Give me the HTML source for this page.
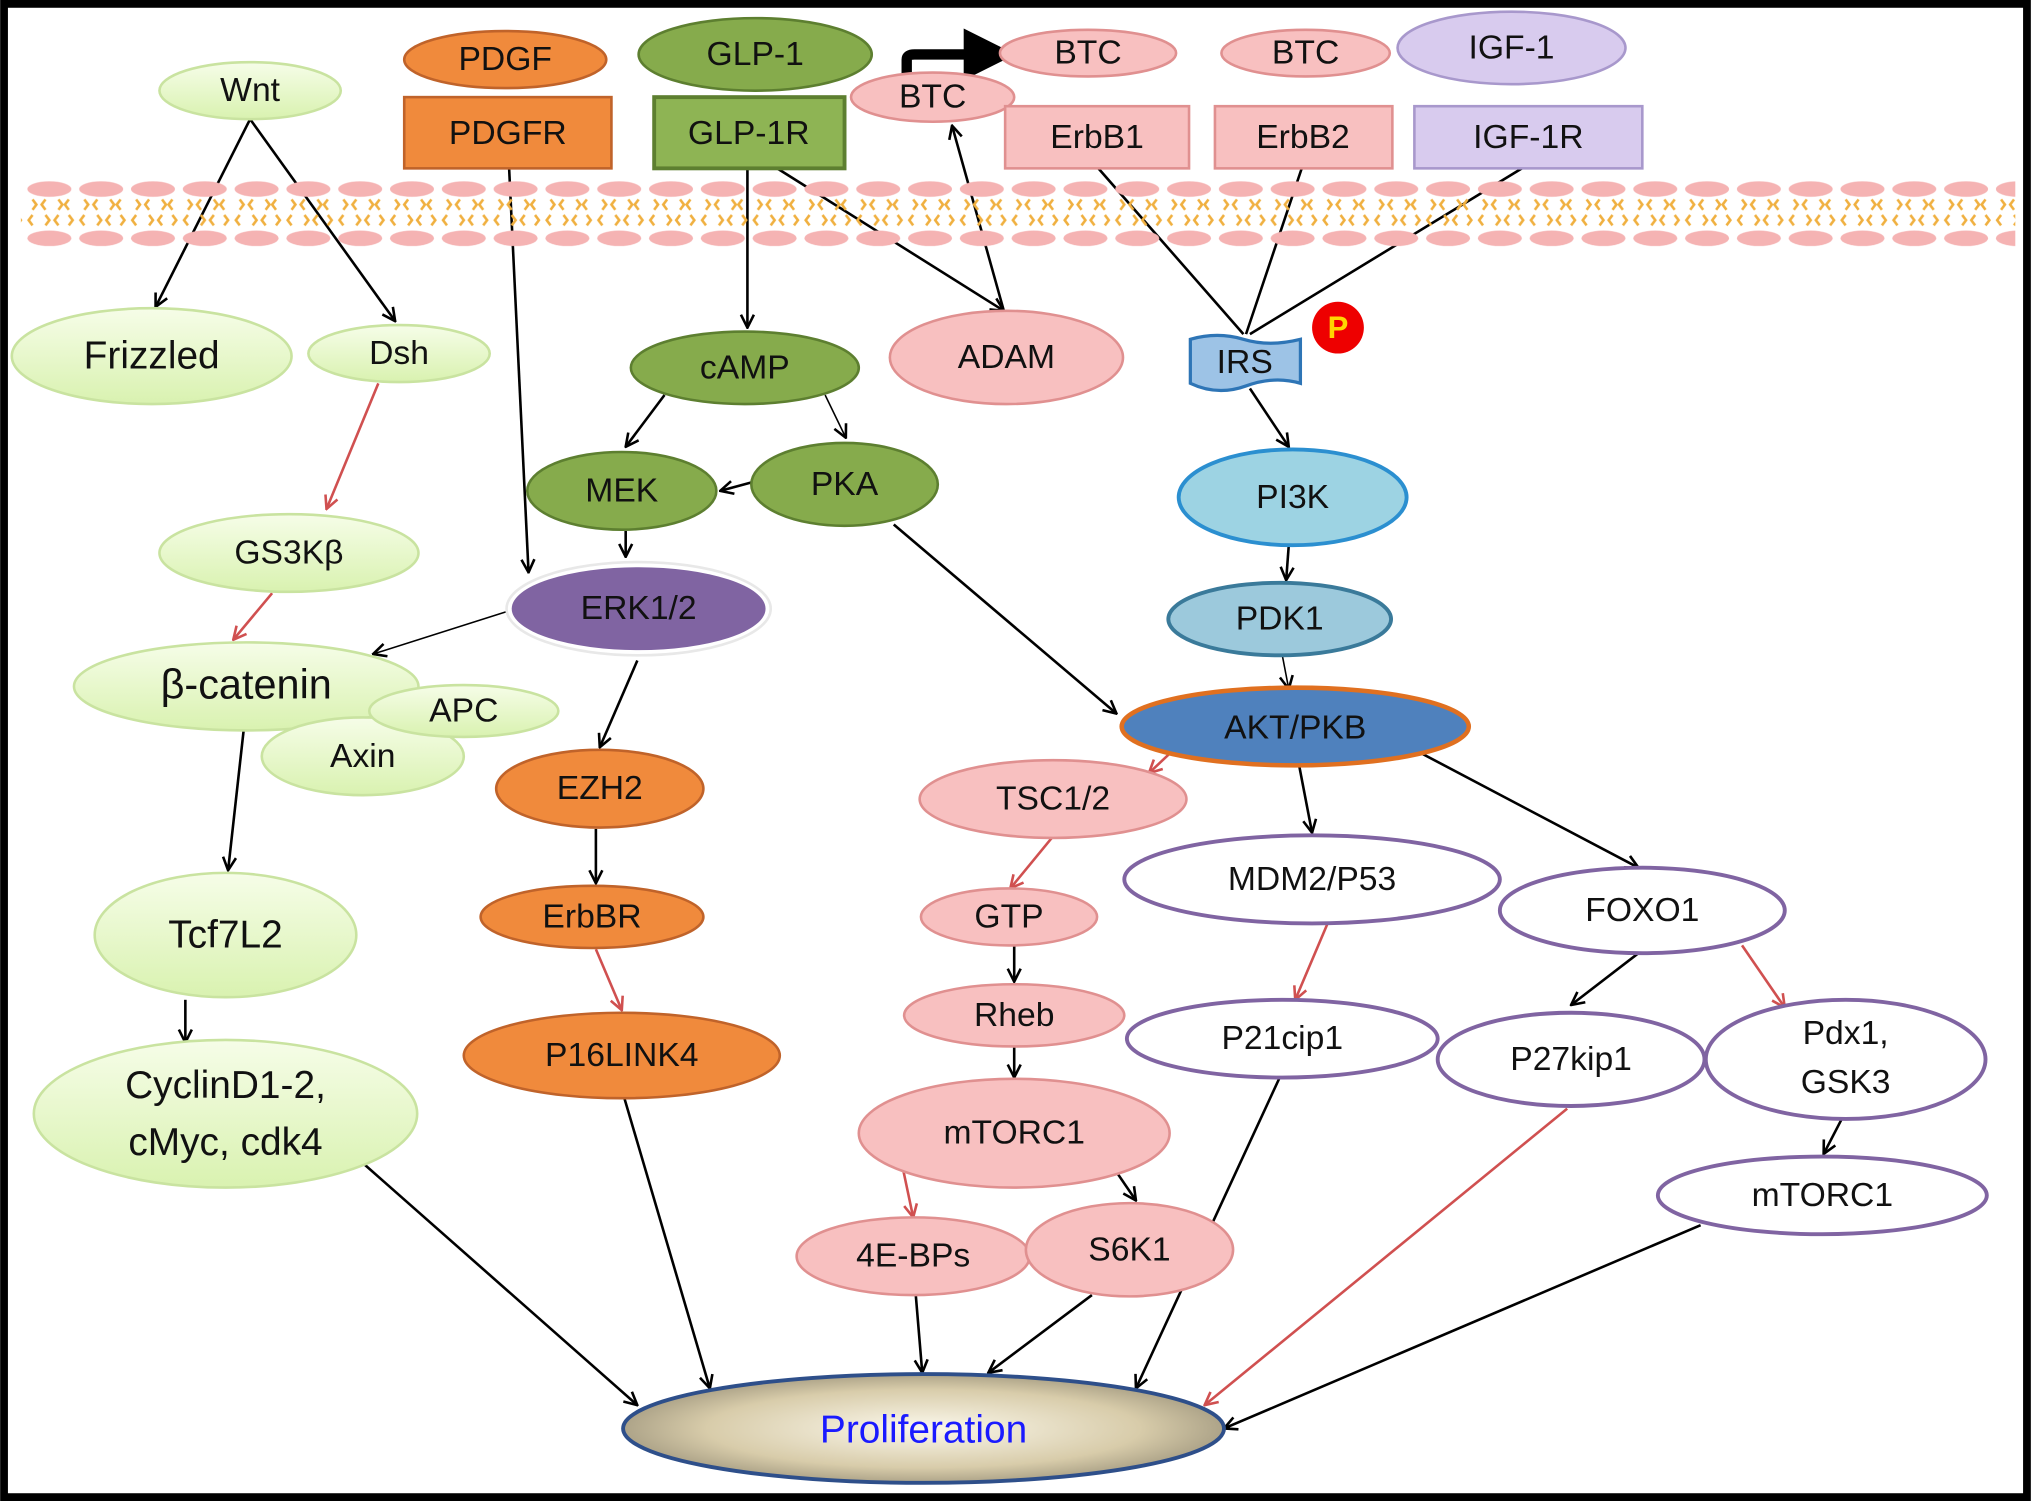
<!DOCTYPE html>
<html><head><meta charset="utf-8"><style>
html,body{margin:0;padding:0;background:#fff}
svg{display:block}
text{font-family:"Liberation Sans",sans-serif;text-anchor:middle;dominant-baseline:central;fill:#111}
</style></head><body>
<svg width="2031" height="1501" viewBox="0 0 1568 1159" xmlns="http://www.w3.org/2000/svg">
<defs>
<marker id="ab" viewBox="0 0 12 12" refX="11" refY="6" markerWidth="12" markerHeight="12" markerUnits="userSpaceOnUse" orient="auto"><path d="M1,1 L11,6 L1,11" fill="none" stroke="#000" stroke-width="2"/></marker>
<marker id="ar" viewBox="0 0 12 12" refX="11" refY="6" markerWidth="12" markerHeight="12" markerUnits="userSpaceOnUse" orient="auto"><path d="M1,1 L11,6 L1,11" fill="none" stroke="#d05050" stroke-width="2"/></marker>
<marker id="big" viewBox="0 0 10 10" refX="2" refY="5" markerWidth="5" markerHeight="5" orient="auto"><path d="M0,0 L10,5 L0,10z" fill="#000"/></marker>
<pattern id="mem" x="18" y="138" width="40" height="54" patternUnits="userSpaceOnUse">
<ellipse cx="20" cy="8" rx="17" ry="6" fill="#f5b3b3"/>
<ellipse cx="20" cy="46" rx="17" ry="6" fill="#f5b3b3"/>
<path d="M7,16 l3,4 l-3,4 M17,16 l-3,4 l3,4 M27,16 l3,4 l-3,4 M35,16 l-3,4 l3,4 M7,28 l-3,4 l3,4 M17,28 l3,4 l-3,4 M27,28 l-3,4 l3,4 M35,28 l3,4 l-3,4" stroke="#f0b040" stroke-width="2" fill="none"/>
</pattern>
<radialGradient id="pro" cx="50%" cy="50%" r="60%"><stop offset="0" stop-color="#fbf8ec"/><stop offset="0.6" stop-color="#d8ccaa"/><stop offset="1" stop-color="#8e8670"/></radialGradient>
<linearGradient id="lg" x1="0" y1="0" x2="0" y2="1"><stop offset="0" stop-color="#f6fde8"/><stop offset="1" stop-color="#d9f2b0"/></linearGradient>
</defs>
<rect x="0" y="0" width="1568" height="1159" fill="#fff"/>

<g stroke="#000" stroke-width="2" fill="none" marker-end="url(#ab)">
<line x1="193" y1="92" x2="120" y2="237"/>
<line x1="193" y1="92" x2="305" y2="248"/>
<line x1="188" y1="564" x2="176" y2="672"/>
<line x1="143" y1="772" x2="143" y2="805"/>
<line x1="280" y1="898" x2="492" y2="1085"/>
<line x1="393" y1="130" x2="408" y2="442"/>
<line x1="577" y1="130" x2="577" y2="253"/>
<line x1="513" y1="305" x2="483" y2="345"/>
<line x1="637" y1="305" x2="653" y2="338" stroke-width="1.2"/>
<line x1="582" y1="372" x2="556" y2="379"/>
<line x1="483" y1="410" x2="483" y2="430"/>
<line x1="690" y1="405" x2="862" y2="551"/>
<line x1="392" y1="472" x2="288" y2="505" stroke-width="1.2"/>
<line x1="492" y1="510" x2="463" y2="577"/>
<line x1="460" y1="640" x2="460" y2="682"/>
<line x1="482" y1="848" x2="548" y2="1072"/>
<line x1="600" y1="130" x2="775" y2="240"/>
<line x1="775" y1="240" x2="735" y2="97"/>
<line x1="848" y1="130" x2="960" y2="258" marker-end="none"/>
<line x1="1005" y1="130" x2="962" y2="258" marker-end="none"/>
<line x1="1175" y1="130" x2="965" y2="258" marker-end="none"/>
<line x1="965" y1="300" x2="995" y2="345"/>
<line x1="995" y1="421" x2="993" y2="448"/>
<line x1="990" y1="506" x2="995" y2="532" stroke-width="1.2"/>
<line x1="1003" y1="591" x2="1013" y2="643"/>
<line x1="1098" y1="582" x2="1265" y2="670"/>
<line x1="783" y1="730" x2="783" y2="758"/>
<line x1="783" y1="808" x2="783" y2="832"/>
<line x1="862" y1="905" x2="877" y2="927"/>
<line x1="707" y1="1000" x2="712" y2="1060"/>
<line x1="843" y1="1000" x2="763" y2="1060"/>
<line x1="988" y1="832" x2="877" y2="1072"/>
<line x1="1265" y1="736" x2="1213" y2="776"/>
<line x1="1422" y1="864" x2="1408" y2="891"/>
<line x1="1313" y1="946" x2="945" y2="1103"/>
</g>
<g stroke="#d05050" stroke-width="2" fill="none" marker-end="url(#ar)">
<line x1="292" y1="296" x2="252" y2="393"/>
<line x1="210" y1="458" x2="180" y2="494"/>
<line x1="460" y1="733" x2="480" y2="780"/>
<line x1="905" y1="580" x2="887" y2="597"/>
<line x1="812" y1="647" x2="780" y2="686"/>
<line x1="697" y1="902" x2="705" y2="940"/>
<line x1="1025" y1="713" x2="1000" y2="772"/>
<line x1="1345" y1="730" x2="1378" y2="778"/>
<line x1="1210" y1="856" x2="930" y2="1085"/>
</g>
<path d="M700,60 L700,46 Q700,42 706,42 L752,42" stroke="#000" stroke-width="8" fill="none" marker-end="url(#big)"/>

<rect x="16" y="138" width="1540" height="54" fill="url(#mem)"/>

<g fill="url(#lg)" stroke="#c9e3a0" stroke-width="2">
<ellipse cx="193" cy="70" rx="70" ry="22"/>
<ellipse cx="117" cy="275" rx="108" ry="37"/>
<ellipse cx="308" cy="273" rx="70" ry="22"/>
<ellipse cx="223" cy="427" rx="100" ry="30"/>
<ellipse cx="190" cy="530" rx="133" ry="34"/>
<ellipse cx="280" cy="584" rx="78" ry="30"/>
<ellipse cx="358" cy="549" rx="73" ry="20"/>
<ellipse cx="174" cy="722" rx="101" ry="48"/>
<ellipse cx="174" cy="860" rx="148" ry="57"/>
</g>
<g font-size="26">
<text x="193" y="70">Wnt</text>
<text x="117" y="275" font-size="30">Frizzled</text>
<text x="308" y="273">Dsh</text>
<text x="223" y="427">GS3Kβ</text>
<text x="190" y="528" font-size="32">β-catenin</text>
<text x="280" y="584">Axin</text>
<text x="358" y="549">APC</text>
<text x="174" y="722" font-size="30">Tcf7L2</text>
<text x="174" y="838" font-size="30">CyclinD1-2,</text>
<text x="174" y="882" font-size="30">cMyc, cdk4</text>
</g>

<g fill="#f08a3c" stroke="#c0632a" stroke-width="2">
<ellipse cx="390" cy="46" rx="78" ry="22"/>
<rect x="312" y="75" width="160" height="55"/>
<ellipse cx="463" cy="609" rx="80" ry="30"/>
<ellipse cx="457" cy="708" rx="86" ry="24"/>
<ellipse cx="480" cy="815" rx="122" ry="33"/>
</g>
<g font-size="26">
<text x="390" y="46">PDGF</text>
<text x="392" y="103">PDGFR</text>
<text x="463" y="609">EZH2</text>
<text x="457" y="708">ErbBR</text>
<text x="480" y="815">P16LINK4</text>
</g>

<g fill="#86ab4c" stroke="#5d7f30" stroke-width="2">
<ellipse cx="583" cy="42" rx="90" ry="28"/>
<rect x="505" y="75" width="147" height="55" fill="#8eb454" stroke-width="3"/>
<ellipse cx="575" cy="284" rx="88" ry="28"/>
<ellipse cx="480" cy="379" rx="73" ry="30"/>
<ellipse cx="652" cy="374" rx="72" ry="32"/>
</g>
<g font-size="26">
<text x="583" y="42">GLP-1</text>
<text x="578" y="103">GLP-1R</text>
<text x="575" y="284">cAMP</text>
<text x="480" y="379">MEK</text>
<text x="652" y="374">PKA</text>
</g>

<ellipse cx="493" cy="470" rx="102" ry="36" fill="#fff" stroke="#e8e8e8" stroke-width="2"/>
<ellipse cx="493" cy="470" rx="98" ry="32" fill="#8064a2"/>
<text x="493" y="470" font-size="26">ERK1/2</text>

<g fill="#f8c0c0" stroke="#e09090" stroke-width="2">
<ellipse cx="840" cy="41" rx="68" ry="18"/>
<ellipse cx="720" cy="75" rx="63" ry="19"/>
<ellipse cx="1008" cy="41" rx="65" ry="18"/>
<ellipse cx="777" cy="276" rx="90" ry="36"/>
<rect x="776" y="82" width="142" height="48"/>
<rect x="938" y="82" width="137" height="48"/>
<ellipse cx="813" cy="617" rx="103" ry="30"/>
<ellipse cx="779" cy="708" rx="68" ry="22"/>
<ellipse cx="783" cy="784" rx="85" ry="24"/>
<ellipse cx="783" cy="875" rx="120" ry="42"/>
<ellipse cx="705" cy="970" rx="90" ry="30"/>
<ellipse cx="872" cy="965" rx="80" ry="36"/>
</g>
<g font-size="26">
<text x="840" y="41">BTC</text>
<text x="720" y="75">BTC</text>
<text x="1008" y="41">BTC</text>
<text x="777" y="276">ADAM</text>
<text x="847" y="106">ErbB1</text>
<text x="1006" y="106">ErbB2</text>
<text x="813" y="617">TSC1/2</text>
<text x="779" y="708">GTP</text>
<text x="783" y="784">Rheb</text>
<text x="783" y="875">mTORC1</text>
<text x="705" y="970">4E-BPs</text>
<text x="872" y="965">S6K1</text>
</g>

<g fill="#d8cbee" stroke="#a898cc" stroke-width="2">
<ellipse cx="1167" cy="37" rx="88" ry="28"/>
<rect x="1092" y="82" width="176" height="48"/>
</g>
<text x="1167" y="37" font-size="26">IGF-1</text>
<text x="1180" y="106" font-size="26">IGF-1R</text>

<path d="M919,262 Q940,256 960,262 T1004,262 L1004,296 Q984,290 962,298 T919,296 Z" fill="#9dc3e6" stroke="#2e75b6" stroke-width="2.5"/>
<text x="961" y="280" font-size="26">IRS</text>
<circle cx="1033" cy="253" r="20" fill="#e00"/>
<text x="1033" y="253" font-size="24" style="fill:#ffd700" font-weight="bold">P</text>

<ellipse cx="998" cy="384" rx="88" ry="37" fill="#9dd3e3" stroke="#2b8fd0" stroke-width="3"/>
<text x="998" y="384" font-size="26">PI3K</text>
<ellipse cx="988" cy="478" rx="86" ry="28" fill="#9cc9dc" stroke="#3a7a9a" stroke-width="3"/>
<text x="988" y="478" font-size="26">PDK1</text>
<ellipse cx="1000" cy="561" rx="134" ry="30" fill="#4f81bd" stroke="#e07020" stroke-width="3.5"/>
<text x="1000" y="562" font-size="26">AKT/PKB</text>

<g fill="#fff" stroke="#8064a2" stroke-width="3">
<ellipse cx="1013" cy="679" rx="145" ry="34"/>
<ellipse cx="1268" cy="703" rx="110" ry="33"/>
<ellipse cx="990" cy="802" rx="120" ry="30"/>
<ellipse cx="1213" cy="818" rx="103" ry="36"/>
<ellipse cx="1425" cy="818" rx="108" ry="46"/>
<ellipse cx="1407" cy="923" rx="127" ry="30"/>
</g>
<g font-size="26">
<text x="1013" y="679">MDM2/P53</text>
<text x="1268" y="703">FOXO1</text>
<text x="990" y="802">P21cip1</text>
<text x="1213" y="818">P27kip1</text>
<text x="1425" y="798">Pdx1,</text>
<text x="1425" y="836">GSK3</text>
<text x="1407" y="923">mTORC1</text>
</g>

<ellipse cx="713" cy="1103" rx="232" ry="42" fill="url(#pro)" stroke="#2e4f8a" stroke-width="3"/>
<text x="713" y="1104" font-size="30" style="fill:#1a1aff">Proliferation</text>

<rect x="3" y="3" width="1562" height="1153" fill="none" stroke="#000" stroke-width="6"/>
</svg>
</body></html>
